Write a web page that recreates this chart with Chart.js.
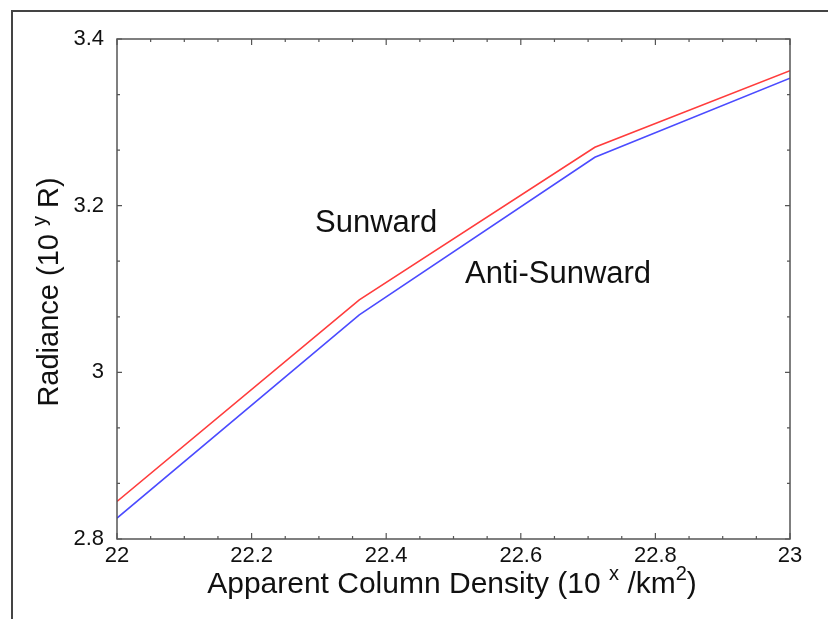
<!DOCTYPE html>
<html>
<head>
<meta charset="utf-8">
<script src="https://cdn.jsdelivr.net/npm/chart.js@4.4.1/dist/chart.umd.min.js"></script>
<style>
  body { margin: 0; background: #fff; }
  canvas { display: block; }
</style>
</head>
<body>
<canvas id="radianceChart" width="828" height="619"></canvas>
<script>
// values
var densityX = [22, 22.36, 22.71, 23];
var sunward = [2.845, 3.087, 3.270, 3.362];
var antiSunward = [2.825, 3.069, 3.258, 3.353];
var xLimits = [22, 23];
var yLimits = [2.8, 3.4];

function toPoints(xs, ys){
	var pts = [];
	for (var i = 0; i < xs.length; i++){
		pts.push({x: xs[i], y: ys[i]});
	};
	return pts;
};

function drawParts(ctx, parts, x, y, size){
	// parts: [text, isSuperscript]
	var total = 0;
	for (var i = 0; i < parts.length; i++){
		ctx.font = (parts[i][1] ? Math.round(size*0.68) : size) + 'px "Liberation Sans", Arial, sans-serif';
		total += ctx.measureText(parts[i][0]).width;
	};
	var cx = x - total/2;
	ctx.textAlign = 'left';
	ctx.textBaseline = 'alphabetic';
	for (var i = 0; i < parts.length; i++){
		var sup = parts[i][1];
		ctx.font = (sup ? Math.round(size*0.68) : size) + 'px "Liberation Sans", Arial, sans-serif';
		ctx.fillText(parts[i][0], cx, sup ? y - size*0.42 : y);
		cx += ctx.measureText(parts[i][0]).width;
	};
};

var framePlugin = {
	id: 'framePlugin',
	afterDraw: function(chart){
		var ctx = chart.ctx;
		var a = chart.chartArea;
		var xs = chart.scales.x, ys = chart.scales.y;
		ctx.save();

		// outer frame
		ctx.strokeStyle = '#444';
		ctx.lineWidth = 2;
		ctx.beginPath();
		ctx.moveTo(12, 640);
		ctx.lineTo(12, 11);
		ctx.lineTo(850, 11);
		ctx.stroke();

		// plot box
		ctx.lineWidth = 1.5;
		ctx.strokeStyle = '#555';
		ctx.strokeRect(a.left, a.top, a.right - a.left, a.bottom - a.top);

		// inward ticks, x every 0.05, y every 0.2/3
		ctx.lineWidth = 1.2;
		ctx.beginPath();
		for (var i = 0; i <= 20; i++){
			var px = xs.getPixelForValue(22 + i*0.05);
			var len = (i % 4 == 0) ? 6 : 3;
			ctx.moveTo(px, a.bottom); ctx.lineTo(px, a.bottom - len);
			ctx.moveTo(px, a.top); ctx.lineTo(px, a.top + len);
		};
		for (var j = 0; j <= 9; j++){
			var py = ys.getPixelForValue(2.8 + j*0.2/3);
			var len2 = (j % 3 == 0) ? 5 : 3;
			ctx.moveTo(a.left, py); ctx.lineTo(a.left + len2, py);
			ctx.moveTo(a.right, py); ctx.lineTo(a.right - len2, py);
		};
		ctx.stroke();

		ctx.fillStyle = '#111';
		// x title
		drawParts(ctx, [['Apparent Column Density (10 ', false], ['x', true], [' /km', false], ['2', true], [')', false]], 452, 593, 30);
		// y title
		ctx.save();
		ctx.translate(58, 292);
		ctx.rotate(-Math.PI/2);
		drawParts(ctx, [['Radiance (10 ', false], ['y', true], [' R)', false]], 0, 0, 29);
		ctx.restore();

		// line labels
		ctx.font = '31px "Liberation Sans", Arial, sans-serif';
		ctx.textAlign = 'left';
		ctx.textBaseline = 'alphabetic';
		ctx.fillText('Sunward', 315, 232);
		ctx.fillText('Anti-Sunward', 465, 283);
		ctx.restore();
	}
};

var ctx = document.getElementById('radianceChart').getContext('2d');
var myChart = new Chart(ctx, {
	type: 'line',
	data: {
		datasets: [
			{label: 'Sunward', data: toPoints(densityX, sunward), borderColor: 'rgb(255,60,60)', borderWidth: 1.6, pointRadius: 0, tension: 0, fill: false},
			{label: 'Anti-Sunward', data: toPoints(densityX, antiSunward), borderColor: 'rgb(75,75,255)', borderWidth: 1.6, pointRadius: 0, tension: 0, fill: false}
		]
	},
	options: {
		responsive: false,
		animation: false,
		layout: {padding: {top: 39, right: 38, left: 0, bottom: 0}},
		plugins: {legend: {display: false}, tooltip: {enabled: false}},
		scales: {
			x: {
				type: 'linear', min: xLimits[0], max: xLimits[1],
				grid: {display: false, drawTicks: false},
				border: {display: false},
				afterFit: function(s){ s.height = 80; },
				ticks: {
					stepSize: 0.2, padding: 4, color: '#111', maxRotation: 0,
					font: {family: '"Liberation Sans", Arial, sans-serif', size: 22},
					callback: function(v){ return String(Math.round(v*10)/10); }
				}
			},
			y: {
				type: 'linear', min: yLimits[0], max: yLimits[1],
				grid: {display: false, drawTicks: false},
				border: {display: false},
				afterFit: function(s){ s.width = 117; },
				ticks: {
					stepSize: 0.2, padding: 13, color: '#111',
					font: {family: '"Liberation Sans", Arial, sans-serif', size: 22},
					callback: function(v){ return String(Math.round(v*10)/10); }
				}
			}
		}
	},
	plugins: [framePlugin]
});
</script>
</body>
</html>
